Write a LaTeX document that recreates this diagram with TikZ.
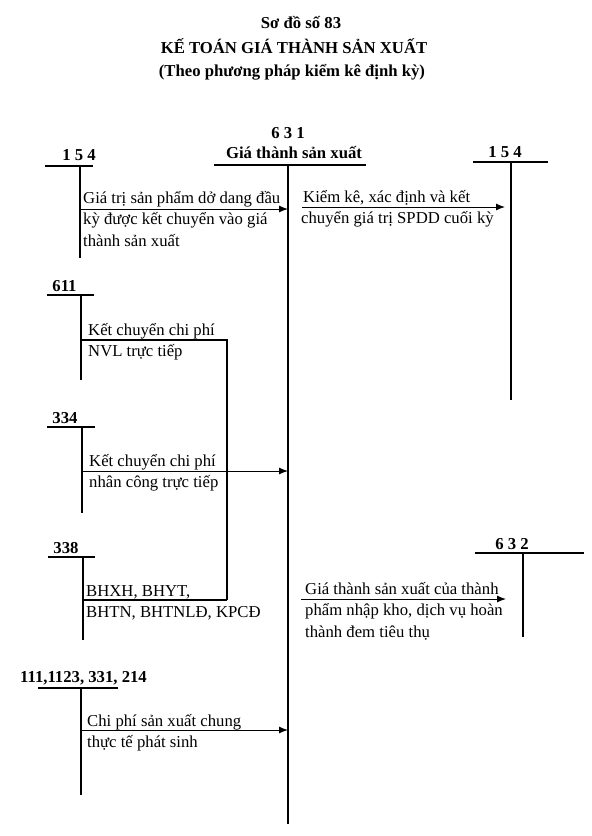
\documentclass[tikz,border=0pt]{standalone}
\usepackage{fontspec}
\setmainfont{Liberation Serif}
\usetikzlibrary{arrows.meta}
\tikzset{
  acct/.style={font=\bfseries\fontsize{16.7}{20}\selectfont,inner sep=0pt},
  note/.style={font=\fontsize{16.7}{21.5}\selectfont,anchor=base west,align=left,inner sep=0pt},
  tline/.style={line width=1.1pt},
  flow/.style={line width=1pt,-{Latex[length=9pt,width=7pt]}},
}
\begin{document}
\begin{tikzpicture}[x=1pt,y=-1pt,line cap=butt]
  \useasboundingbox[fill=white] (0,0) rectangle (592,836);
  \node[acct,anchor=base] (title1) at (301,28) {Sơ đồ số 83};
  \node[acct,anchor=base] (title2) at (294,53) {KẾ TOÁN GIÁ THÀNH SẢN XUẤT};
  \node[acct,anchor=base] (title3) at (292,76) {(Theo phương pháp kiểm kê định kỳ)};
  % 631
  \node[acct,anchor=base] (n631) at (288,138) {6 3 1};
  \node[acct,anchor=base] (h631) at (294,158) {Giá thành sản xuất};
  \draw[line width=1.8pt] (214,165) -- (366,165);
  \draw[line width=1.9pt] (288,165) -- (288,824);
  % 154 left
  \node[acct,anchor=base] (n154a) at (79,160) {1 5 4};
  \draw[tline] (45,166) -- (93,166);
  \draw[tline] (80,166) -- (80,258);
  \coordinate (s154) at (80,209);
  \coordinate (e154) at (288,209);
  \draw[flow] (s154) -- (e154);
  \node[note] (t154a) at (83,246) {Giá trị sản phẩm dở dang đầu\\kỳ được kết chuyển vào giá\\thành sản xuất};
  % 154 right
  \node[acct,anchor=base] (n154b) at (505,157) {1 5 4};
  \draw[tline] (473,162) -- (548,162);
  \draw[tline] (511,162) -- (511,400);
  \coordinate (s631a) at (302,207);
  \coordinate (e154b) at (505,207);
  \draw[flow] (s631a) -- (e154b);
  \node[note] (t154b) at (301,223.5) {\hspace{2pt}Kiểm kê, xác định và kết\\chuyển giá trị SPDD cuối kỳ};
  % 611
  \node[acct,anchor=base] (n611) at (64.5,291) {611};
  \draw[tline] (47,295) -- (94,295);
  \draw[tline] (81,295) -- (81,380);
  \draw[tline] (81,340) -- (227,340) -- (227,600);
  \node[note] (t611) at (88,356.5) {Kết chuyển chi phí\\NVL trực tiếp};
  % 334
  \node[acct,anchor=base] (n334) at (65,423) {334};
  \draw[tline] (47,427) -- (95,427);
  \draw[tline] (82,427) -- (82,513);
  \coordinate (s334) at (82,471);
  \coordinate (e334) at (288,471);
  \draw[flow] (s334) -- (e334);
  \node[note] (t334) at (89,487.5) {Kết chuyển chi phí\\nhân công trực tiếp};
  % 338
  \node[acct,anchor=base] (n338) at (66,553) {338};
  \draw[tline] (48,557) -- (95,557);
  \draw[tline] (83,557) -- (83,640);
  \draw[tline] (83,600) -- (227,600);
  \node[note] (t338) at (86,617.5) {BHXH, BHYT,\\BHTN, BHTNLĐ, KPCĐ};
  % 632
  \node[acct,anchor=base] (n632) at (512,549) {6 3 2};
  \draw[tline] (475,553) -- (584,553);
  \draw[tline] (523,553) -- (523,637);
  \coordinate (s631b) at (301,599);
  \coordinate (e632) at (506,599);
  \draw[flow] (s631b) -- (e632);
  \node[note] (t632) at (305,637) {Giá thành sản xuất của thành\\phẩm nhập kho, dịch vụ hoàn\\thành đem tiêu thụ};
  % 111
  \node[acct,anchor=base] (n111) at (83.5,682) {111,1123, 331, 214};
  \draw[tline] (38,688) -- (118,688);
  \draw[tline] (81,688) -- (81,795);
  \coordinate (s111) at (81,730);
  \coordinate (e111) at (288,730);
  \draw[flow] (s111) -- (e111);
  \node[note] (t111) at (87,747.5) {Chi phí sản xuất chung\\thực tế phát sinh};
\end{tikzpicture}
\end{document}
